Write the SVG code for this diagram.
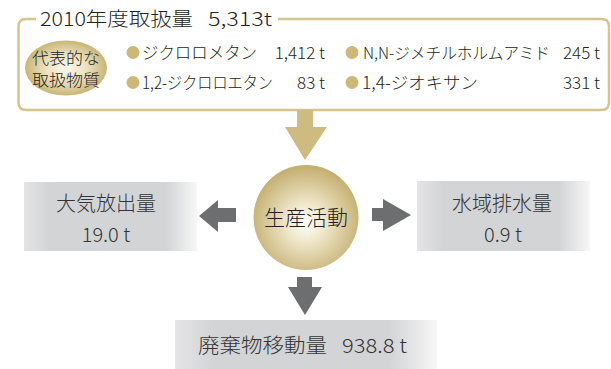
<svg xmlns="http://www.w3.org/2000/svg" width="611" height="369" viewBox="0 0 611 369">
<defs>
<radialGradient id="gCircle" cx="50%" cy="55%" r="55%">
<stop offset="0" stop-color="#ffffff"/>
<stop offset="0.35" stop-color="#efe6c8"/>
<stop offset="1" stop-color="#c3ad6e"/>
</radialGradient>
<radialGradient id="gEll" cx="50%" cy="50%" r="50%">
<stop offset="0" stop-color="#fbf8ec"/>
<stop offset="0.5" stop-color="#ece2c0"/>
<stop offset="1" stop-color="#c8b577"/>
</radialGradient>
<linearGradient id="gBox" x1="0" y1="0" x2="1" y2="0">
<stop offset="0" stop-color="#e4e4e5"/>
<stop offset="0.15" stop-color="#d3d4d6"/>
<stop offset="0.82" stop-color="#d3d4d6"/>
<stop offset="1" stop-color="#f7f7f7"/>
</linearGradient>
</defs>
<style>
text{font-family:"Noto Sans CJK JP","Noto Sans",sans-serif;fill:#231f20;font-weight:300}
.t17{font-size:17px}
.t19{font-size:19px}
.t20{font-size:20px;fill:#333}
.mid{text-anchor:middle}
.end{text-anchor:end}
.bul{fill:#cdb878}
.tan{fill:#cdbb7f}
.gray{fill:#6d6e70}
</style>

<g id="source">
<path d="M36,19 H26 Q18.5,19 18.5,26.5 V102.5 Q18.5,110 26,110 H601.5 Q609,110 609,102.5 V26.5 Q609,19 601.5,19 H278" fill="none" stroke="#d6c48e" stroke-width="2.5"/>
<text class="t19" x="40" y="26" textLength="153" lengthAdjust="spacingAndGlyphs">2010年度取扱量</text>
<text class="t19" x="208" y="26" textLength="64" lengthAdjust="spacingAndGlyphs">5,313t</text>
<ellipse cx="66" cy="68" rx="41" ry="27.5" fill="url(#gEll)"/>
<text class="mid" x="66" y="63.5" style="font-size:15.5px" textLength="68" lengthAdjust="spacingAndGlyphs">代表的な</text>
<text class="mid" x="66" y="86" style="font-size:15.5px" textLength="68" lengthAdjust="spacingAndGlyphs">取扱物質</text>
<circle class="bul" cx="133" cy="52.5" r="6.5"/>
<text class="t17" x="142" y="59" textLength="115" lengthAdjust="spacingAndGlyphs">ジクロロメタン</text>
<text class="t17 end" x="325" y="59">1,412 t</text>
<circle class="bul" cx="133" cy="82.5" r="6.5"/>
<text class="t17" x="142" y="89" textLength="131" lengthAdjust="spacingAndGlyphs">1,2-ジクロロエタン</text>
<text class="t17 end" x="325" y="89">83 t</text>
<circle class="bul" cx="352" cy="52.5" r="6.5"/>
<text x="363" y="59" style="font-size:16px" textLength="187" lengthAdjust="spacingAndGlyphs">N,N-ジメチルホルムアミド</text>
<text class="t17 end" x="600" y="59">245 t</text>
<circle class="bul" cx="352" cy="82.5" r="6.5"/>
<text class="t17" x="362" y="89" textLength="116" lengthAdjust="spacingAndGlyphs">1,4-ジオキサン</text>
<text class="t17 end" x="600" y="89">331 t</text>
</g>

<g id="activity">
<circle cx="306" cy="217.5" r="52.5" fill="url(#gCircle)"/>
<text class="mid" x="306" y="225" style="font-size:21px">生産活動</text>
</g>

<g id="air">
<rect x="24" y="182" width="173" height="69" fill="url(#gBox)"/>
<text class="t20 mid" x="106" y="211">大気放出量</text>
<text class="t20 mid" x="106" y="242">19.0 t</text>
</g>

<g id="water">
<rect x="417" y="181" width="173" height="70" fill="url(#gBox)"/>
<text class="t20 mid" x="502" y="211">水域排水量</text>
<text class="t20 mid" x="503" y="242">0.9 t</text>
</g>

<g id="waste">
<rect x="175" y="320" width="262" height="49" fill="url(#gBox)"/>
<text class="t20" x="198" y="353" textLength="129" lengthAdjust="spacingAndGlyphs">廃棄物移動量</text>
<text class="t20" x="342" y="353" textLength="65" lengthAdjust="spacingAndGlyphs">938.8 t</text>
</g>

<g id="connectors">
<polygon class="tan" points="297,110 313,110 313,127 327,127 305,160 285,127 297,127"/>
<polygon class="gray" points="236,208 236,222 218,222 218,232 199,216 218,200 218,208"/>
<polygon class="gray" points="372,208 383,208 383,199 411,215 383,231 383,221 372,221"/>
<polygon class="gray" points="297,277 312,277 312,287 322,287 305,315 288,287 297,287"/>
</g>
</svg>
